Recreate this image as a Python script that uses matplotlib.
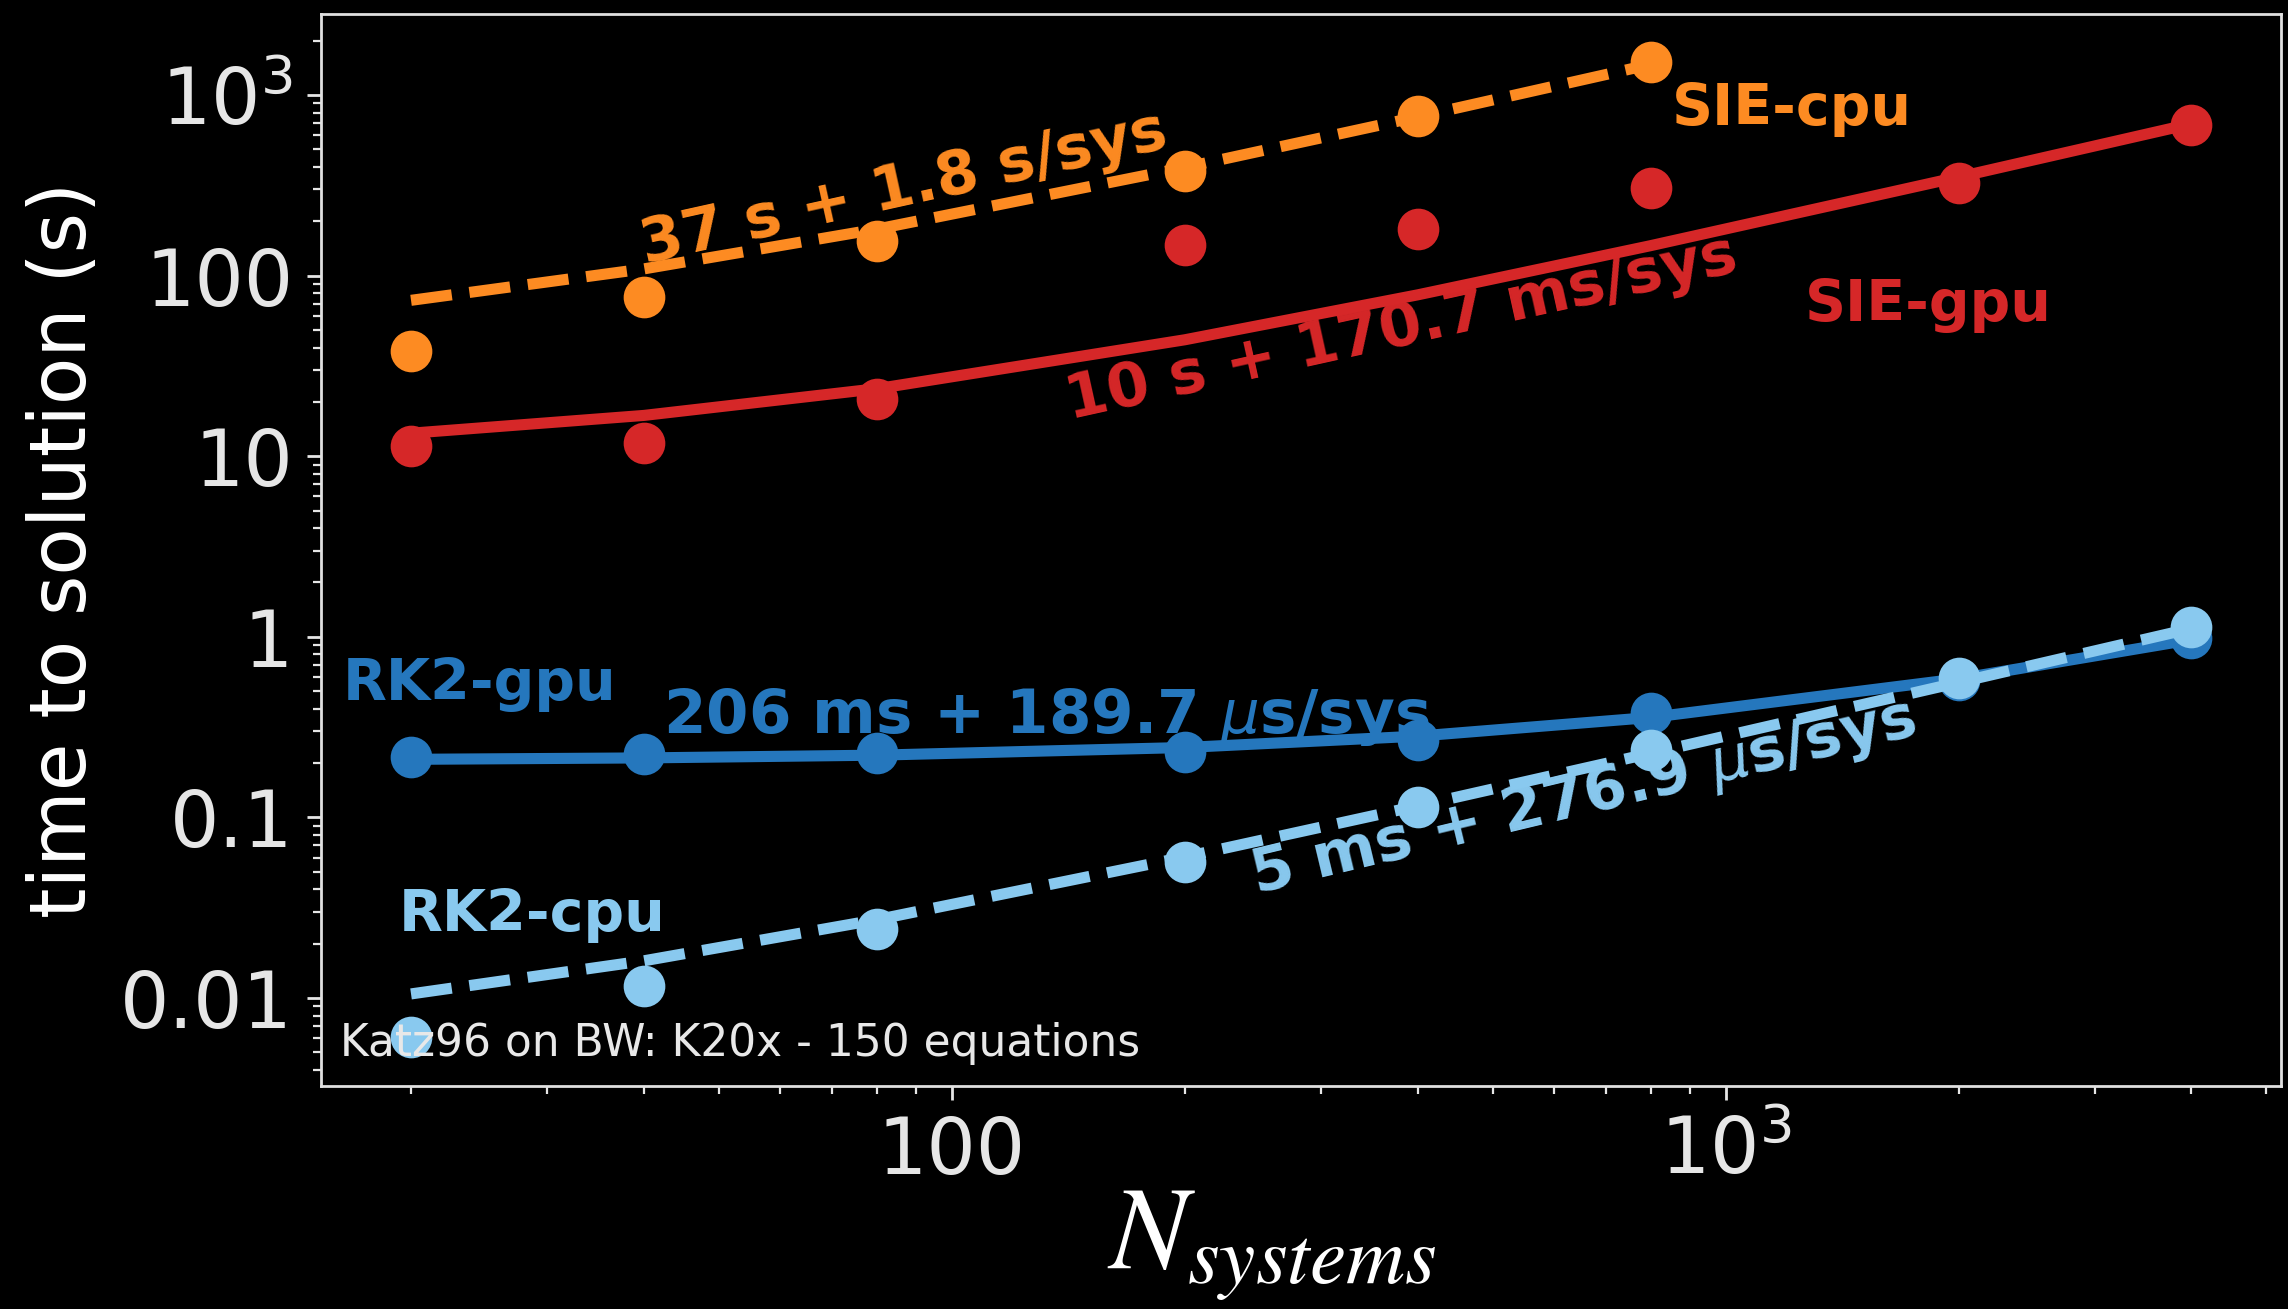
import numpy as np
import matplotlib
matplotlib.use('Agg')
import matplotlib.pyplot as plt
from matplotlib.ticker import NullFormatter

# number of independent systems integrated per run
n_sys = [20, 40, 80, 200, 400, 800, 2000, 4000]

# measured time to solution (s)
sie_cpu = [38.5, 76, 156, 378, 762, 1515]
sie_gpu = [11.4, 11.8, 20.8, 148, 182, 305, 327, 680]
rk2_gpu = [0.216, 0.224, 0.228, 0.230, 0.268, 0.377, 0.58, 0.98]
rk2_cpu = [0.0061, 0.0116, 0.024, 0.0566, 0.114, 0.237, 0.591, 1.13]

# linear cost models: (overhead in s, cost per system in s)
fit_sie_cpu = (37.0, 1.8)
fit_sie_gpu = (10.0, 170.7e-3)
fit_rk2_gpu = (206e-3, 189.7e-6)
fit_rk2_cpu = (5e-3, 276.9e-6)

c_orange = '#fd8b22'
c_red = '#d62728'
c_blue = '#2577bd'
c_light = '#89c9ef'


def model(n, fit):
    a, b = fit
    return a + b * np.asarray(n, dtype=float)


plt.style.use('dark_background')
plt.rcParams['font.family'] = ['DejaVu Sans']

fig = plt.figure(figsize=(11.44, 6.545), dpi=200)
fig.patch.set_facecolor('black')
ax = fig.add_axes([0.1403, 0.1704, 0.9969 - 0.1403, 0.9893 - 0.1704])
ax.set_facecolor('black')

lw = 4
ms = 14

n_cpu = n_sys[:len(sie_cpu)]
ax.plot(n_cpu, model(n_cpu, fit_sie_cpu), '--', color=c_orange, lw=lw)
ax.plot(n_cpu, sie_cpu, 'o', color=c_orange, ms=ms)

ax.plot(n_sys, model(n_sys, fit_sie_gpu), '-', color=c_red, lw=lw)
ax.plot(n_sys, sie_gpu, 'o', color=c_red, ms=ms)

ax.plot(n_sys, model(n_sys, fit_rk2_gpu), '-', color=c_blue, lw=lw)
ax.plot(n_sys, rk2_gpu, 'o', color=c_blue, ms=ms)

ax.plot(n_sys, model(n_sys, fit_rk2_cpu), '--', color=c_light, lw=lw)
ax.plot(n_sys, rk2_cpu, 'o', color=c_light, ms=ms)

ax.set_xscale('log')
ax.set_yscale('log')
ax.set_xlim(15.3, 5220)
ax.set_ylim(0.00326, 2810)

ax.set_xticks([100, 1000], ['100', r'$10^3$'])
ax.set_yticks([0.01, 0.1, 1, 10, 100, 1000],
              ['0.01', '0.1', '1', '10', '100', r'$10^3$'])
ax.xaxis.set_minor_formatter(NullFormatter())
ax.yaxis.set_minor_formatter(NullFormatter())

ax.tick_params(which='major', length=5, width=1, colors='#e6e6e6',
               labelsize=28, pad=5)
ax.tick_params(which='minor', length=3, width=0.8, colors='#e6e6e6')
for sp in ax.spines.values():
    sp.set_color('#e0e0e0')
    sp.set_linewidth(1)

ax.set_ylabel('time to solution (s)', fontsize=28, color='white', labelpad=6.5)
ax.set_xlabel(r'$N_{systems}$', fontsize=42, color='white',
              math_fontfamily='stix')
ax.xaxis.set_label_coords(0.485, -0.095)

# series names
name_kw = dict(fontsize=20.5, fontweight='bold', ha='left', va='baseline')
ax.text(851, 682, 'SIE-cpu', color=c_orange, **name_kw)
ax.text(1265, 56.1, 'SIE-gpu', color=c_red, **name_kw)
ax.text(16.3, 0.447, 'RK2-gpu', color=c_blue, **name_kw)
ax.text(19.3, 0.0235, 'RK2-cpu', color=c_light, **name_kw)

# fit annotations
fit_kw = dict(fontsize=22, fontweight='bold', ha='left', va='baseline',
              rotation_mode='anchor')
ax.text(40.2, 117.5, '37 s + 1.8 s/sys', color=c_orange, rotation=12.5, **fit_kw)
ax.text(142, 16.1, '10 s + 170.7 ms/sys', color=c_red, rotation=12.5, **fit_kw)
ax.text(42.3, 0.293, r'206 ms + 189.7 $\mu$s/sys', color=c_blue, rotation=0, **fit_kw)
ax.text(247, 0.0381, r'5 ms + 276.9 $\mu$s/sys', color=c_light, rotation=13.5, **fit_kw)

ax.text(0.0097, 0.028, 'Katz96 on BW: K20x - 150 equations',
        transform=ax.transAxes, fontsize=15.8, color='#e8e8e8')

fig.savefig('out.png', dpi=200, facecolor='black')
